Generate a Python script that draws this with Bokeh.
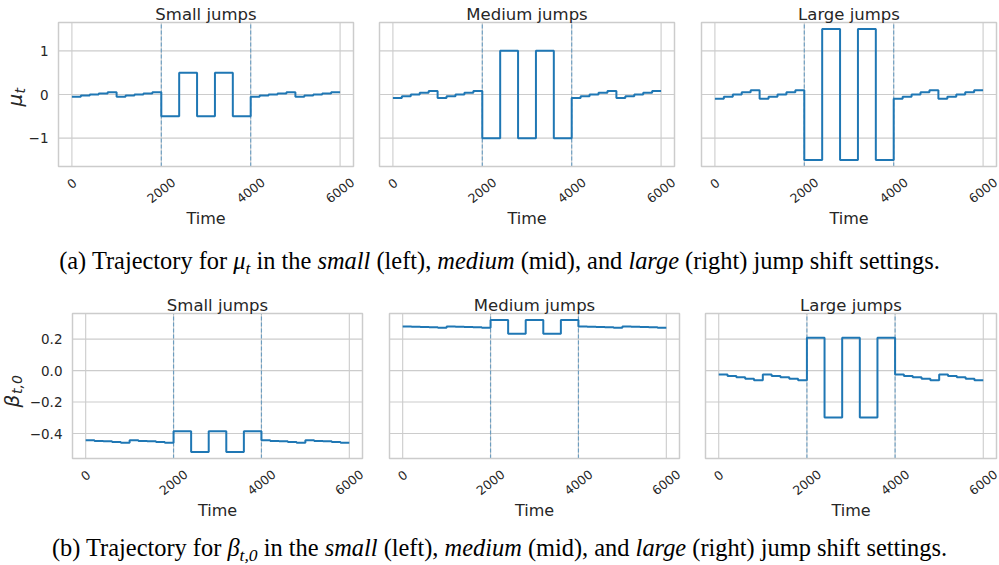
import math

from bokeh.embed import file_html
from bokeh.layouts import column, row
from bokeh.models import Div, Label, Range1d
from bokeh.plotting import figure
from bokeh.resources import INLINE

# ---------------------------------------------------------------- data
TIME = [0, 200, 400, 600, 800, 1000, 1200, 1400, 1600, 1800,
        2000, 2200, 2400, 2600, 2800, 3000, 3200, 3400, 3600, 3800,
        4000, 4200, 4400, 4600, 4800, 5000, 5200, 5400, 5600, 5800, 6000]

MU_SMALL = [-0.05, -0.025, 0.0, 0.025, 0.05, -0.05, -0.025, 0.0, 0.025, 0.05,
            -0.5, -0.5, 0.5, 0.5, -0.5, -0.5, 0.5, 0.5, -0.5, -0.5,
            -0.05, -0.025, 0.0, 0.025, 0.05, -0.05, -0.025, 0.0, 0.025, 0.05, 0.05]
MU_MEDIUM = [-0.08, -0.04, 0.0, 0.04, 0.08, -0.08, -0.04, 0.0, 0.04, 0.08,
             -1.0, -1.0, 1.0, 1.0, -1.0, -1.0, 1.0, 1.0, -1.0, -1.0,
             -0.08, -0.04, 0.0, 0.04, 0.08, -0.08, -0.04, 0.0, 0.04, 0.08, 0.08]
MU_LARGE = [-0.1, -0.05, 0.0, 0.05, 0.1, -0.1, -0.05, 0.0, 0.05, 0.1,
            -1.5, -1.5, 1.5, 1.5, -1.5, -1.5, 1.5, 1.5, -1.5, -1.5,
            -0.1, -0.05, 0.0, 0.05, 0.1, -0.1, -0.05, 0.0, 0.05, 0.1, 0.1]

BETA_SMALL = [-0.443, -0.447, -0.450, -0.454, -0.458, -0.443, -0.447, -0.450, -0.454, -0.458,
              -0.385, -0.385, -0.517, -0.517, -0.385, -0.385, -0.517, -0.517, -0.385, -0.385,
              -0.443, -0.447, -0.450, -0.454, -0.458, -0.443, -0.447, -0.450, -0.454, -0.458, -0.458]
BETA_MEDIUM = [0.281, 0.279, 0.277, 0.275, 0.273, 0.281, 0.279, 0.277, 0.275, 0.273,
               0.321, 0.321, 0.234, 0.234, 0.321, 0.321, 0.234, 0.234, 0.321, 0.321,
               0.281, 0.279, 0.277, 0.275, 0.273, 0.281, 0.279, 0.277, 0.275, 0.273, 0.273]
BETA_LARGE = [-0.025, -0.034, -0.043, -0.052, -0.061, -0.025, -0.034, -0.043, -0.052, -0.061,
              0.209, 0.209, -0.299, -0.299, 0.209, 0.209, -0.299, -0.299, 0.209, 0.209,
              -0.025, -0.034, -0.043, -0.052, -0.061, -0.025, -0.034, -0.043, -0.052, -0.061, -0.061]

CHANGE_POINTS = [2000, 4000]
TITLES = ["Small jumps", "Medium jumps", "Large jumps"]
X_TICKS = [0, 2000, 4000, 6000]
X_TICK_LABELS = ["0", "2000", "4000", "6000"]
MU_TICKS = [-1, 0, 1]
MU_TICK_LABELS = ["\u22121", "0", "1"]
BETA_TICKS = [-0.4, -0.2, 0.0, 0.2]
BETA_TICK_LABELS = ["\u22120.4", "\u22120.2", "0.0", "0.2"]
X_LABEL = "Time"
SUB = '<span style="font-size:0.72em; position:relative; top:0.3em;">{}</span>'
CAPTION_A = ('(a) Trajectory for <i>\u03bc' + SUB.format('t') + '</i> in the <i>small</i> (left), '
             '<i>medium</i> (mid), and <i>large</i> (right) jump shift settings.')
CAPTION_B = ('(b) Trajectory for <i>\u03b2' + SUB.format('t,0') + '</i> in the <i>small</i> (left), '
             '<i>medium</i> (mid), and <i>large</i> (right) jump shift settings.')

# ---------------------------------------------------------------- style
FONT = "DejaVu Sans"
INK = "#262626"
GRID = "#cccccc"
BLUE = "#1f77b4"
TICK_PX = 13.5
XTICK_PX = 12.5
LABEL_PX = 16
TITLE_PX = 16.5
TICK_ANGLE = 38  # degrees


def padded(*series):
    lo = min(min(s) for s in series)
    hi = max(max(s) for s in series)
    pad = 0.05 * (hi - lo)
    return lo - pad, hi + pad


X_LIM = padded(X_TICKS)


def text(p, x, y, s, dx=0, dy=0, size=TICK_PX, align="center", baseline="middle",
         angle=0, style="normal"):
    p.add_layout(Label(x=x, y=y, x_offset=dx, y_offset=dy, text=s,
                       angle=angle, angle_units="deg", text_align=align,
                       text_baseline=baseline, text_font=FONT, text_font_size=f"{size}px",
                       text_font_style=style, text_color=INK))


def panel(title, values, y_lim, y_ticks, y_tick_labels, size, borders, show_y):
    """One axes box; the canvas around it holds the ticks, labels and title."""
    width, height = size
    left, right, top, bottom = borders
    fw = width - left - right
    fh = height - top - bottom
    x0, x1 = X_LIM
    y0, y1 = y_lim
    sx = (x1 - x0) / fw
    sy = (y1 - y0) / fh
    p = figure(width=width, height=height, output_backend="svg", toolbar_location=None,
               x_axis_location=None, y_axis_location=None,
               x_range=Range1d(x0 - left * sx, x1 + right * sx),
               y_range=Range1d(y0 - bottom * sy, y1 + top * sy),
               min_border=0)
    p.outline_line_color = None
    p.background_fill_color = "white"
    p.border_fill_color = "white"
    p.xgrid.visible = False
    p.ygrid.visible = False

    # grid inside the axes box
    p.segment(x0=X_TICKS, y0=[y0] * len(X_TICKS), x1=X_TICKS, y1=[y1] * len(X_TICKS),
              line_color=GRID, line_width=1.1)
    p.segment(x0=[x0] * len(y_ticks), y0=y_ticks, x1=[x1] * len(y_ticks), y1=y_ticks,
              line_color=GRID, line_width=1.1)

    # change points
    p.segment(x0=CHANGE_POINTS, y0=[y0] * len(CHANGE_POINTS),
              x1=CHANGE_POINTS, y1=[y1] * len(CHANGE_POINTS),
              line_color=BLUE, line_alpha=0.55, line_dash="4 2", line_width=1.2)

    p.step(TIME, values, mode="after", line_color=BLUE, line_width=2.0)

    # axes box
    p.quad(left=[x0], right=[x1], bottom=[y0], top=[y1], fill_color=None,
           line_color=GRID, line_width=1.5)

    # rotated x tick labels, centred under each tick
    a = math.radians(TICK_ANGLE)
    for t, s in zip(X_TICKS, X_TICK_LABELS):
        w = len(s) * 0.6 * XTICK_PX
        h = 0.74 * XTICK_PX
        half = (w * math.sin(a) + h * math.cos(a)) / 2
        text(p, t, y0, s, dy=-(11 + half), size=XTICK_PX, angle=TICK_ANGLE)

    if show_y:
        for t, s in zip(y_ticks, y_tick_labels):
            text(p, x0, t, s, dx=-10, align="right")

    xm = (x0 + x1) / 2
    text(p, xm, y0, X_LABEL, dy=-52, size=LABEL_PX, baseline="alphabetic")
    text(p, xm, y1, title, dy=8.5, size=TITLE_PX, baseline="alphabetic")
    return p


def y_label(p, x0, y_lim, pieces):
    # pieces: (text, px left of box, px from box middle, font px)
    ym = (y_lim[0] + y_lim[1]) / 2
    for s, dx, dy, px in pieces:
        text(p, x0, ym, s, dx=dx, dy=dy, size=px, align="left", baseline="alphabetic",
             angle=90, style="italic")


mu_lim = padded(MU_SMALL, MU_MEDIUM, MU_LARGE)
beta_lim = padded(BETA_SMALL, BETA_MEDIUM, BETA_LARGE)

top_sizes = [(366, 235), (321, 235), (312, 235)]
top_borders = [(58, 13, 22, 69), (13, 13, 22, 69), (14, 3, 22, 69)]
bot_sizes = [(375, 245), (317, 245), (307, 245)]
bot_borders = [(72, 13, 28, 72), (14, 13, 28, 72), (13, 3, 28, 72)]

top_row = []
for i, vals in enumerate([MU_SMALL, MU_MEDIUM, MU_LARGE]):
    p = panel(TITLES[i], vals, mu_lim, MU_TICKS, MU_TICK_LABELS,
              top_sizes[i], top_borders[i], i == 0)
    if i == 0:
        y_label(p, X_LIM[0], mu_lim, [("\u03bc", -44, -12, 20), ("t", -39, 1, 14)])
    top_row.append(p)

bottom_row = []
for i, vals in enumerate([BETA_SMALL, BETA_MEDIUM, BETA_LARGE]):
    p = panel(TITLES[i], vals, beta_lim, BETA_TICKS, BETA_TICK_LABELS,
              bot_sizes[i], bot_borders[i], i == 0)
    if i == 0:
        y_label(p, X_LIM[0], beta_lim, [("\u03b2", -61, -21.5, 20), ("t,0", -56, -8, 14)])
    bottom_row.append(p)

cap_style = {"font-family": "'Liberation Serif', 'Times New Roman', serif",
             "font-size": "24.4px", "color": "#000000", "text-align": "center",
             "width": "999px", "overflow": "hidden", "white-space": "nowrap"}
cap_a = Div(text=CAPTION_A, width=999, height=50, margin=0,
            styles=dict(cap_style, **{"line-height": "52px", "height": "50px"}))
cap_b = Div(text=CAPTION_B, width=999, height=35, margin=0,
            styles=dict(cap_style, **{"line-height": "36px", "height": "35px"}))

layout = column(row(*top_row), cap_a, row(*bottom_row), cap_b)

with open("out.html", "w") as f:
    f.write(file_html(layout, INLINE))
